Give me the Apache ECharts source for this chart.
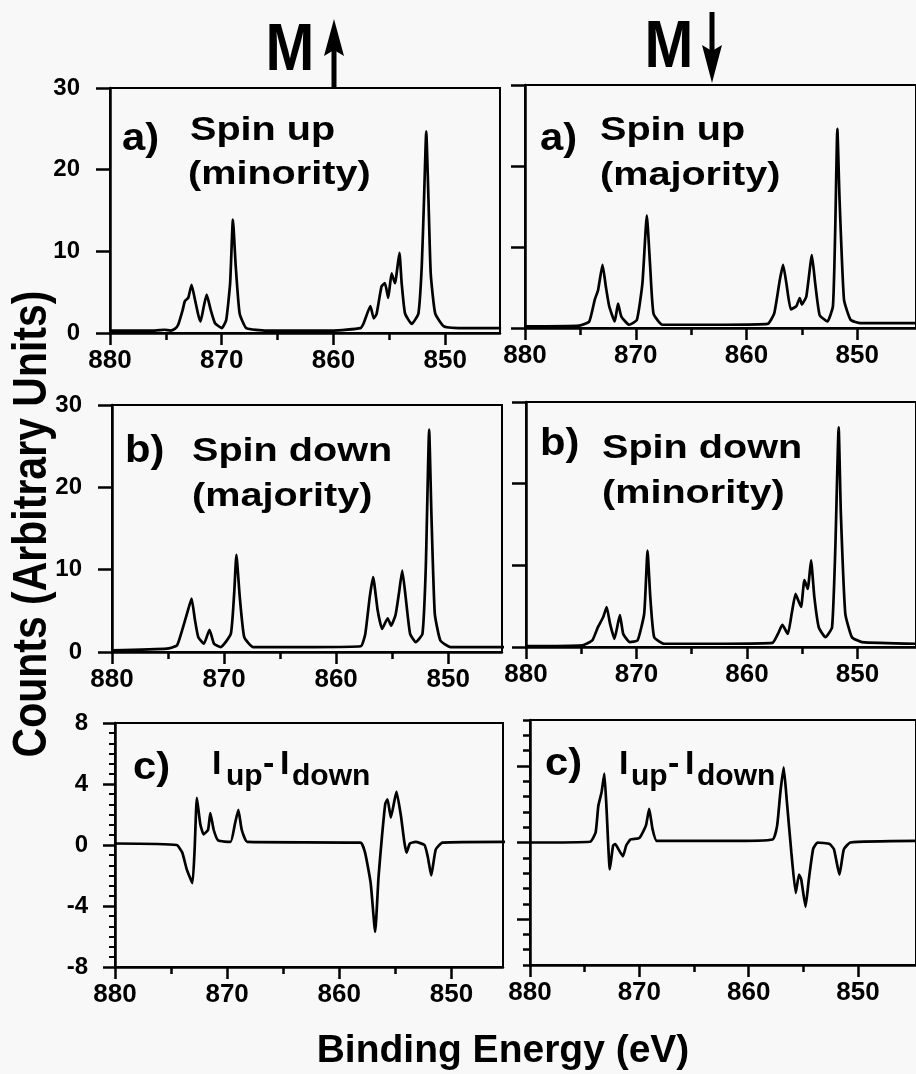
<!DOCTYPE html>
<html><head><meta charset="utf-8">
<script src="https://cdn.jsdelivr.net/npm/echarts@6/dist/echarts.min.js"></script>
<style>html,body{margin:0;padding:0;background:#f8f8f8}#c{width:916px;height:1074px}</style>
</head><body><div id="c"></div>
<script>
// ---- tick labels ----
const xTicks = [880, 870, 860, 850];
const xMinorTicks = [875, 865, 855];
const yTicksSpin = [0, 10, 20, 30];
const yTicksDiff = [-8, -4, 0, 4, 8];
const yMajorDiffRight = [-5, 0, 5];

// ---- data: [binding energy (eV), counts] ----
// M up, spin up (minority)
const mUpSpinUp = [[880,0.3],[876,0.3],[875.1,0.4],[874.6,0.3],[874.2,0.5],[873.9,1.0],[873.5,2.8],[873.3,3.9],[873.0,4.3],[872.7,5.9],[872.4,4.1],[872.1,2.2],[871.9,1.4],[871.6,3.3],[871.35,4.7],[871.0,2.9],[870.6,1.2],[870.0,0.6],[869.6,1.6],[869.25,6.1],[869.0,13.9],[868.75,8.2],[868.4,2.4],[867.8,0.6],[866,0.3],[860,0.3],[857.6,0.6],[857.3,1.2],[856.7,3.3],[856.4,1.8],[856.15,2.3],[855.7,5.7],[855.4,6.1],[855.1,4.3],[854.8,7.3],[854.5,6.1],[854.1,9.8],[853.9,6.1],[853.6,2.4],[853.0,1.1],[852.4,2.4],[852.1,8.2],[851.9,16.3],[851.7,24.7],[851.5,16.3],[851.3,7.3],[850.9,2.4],[850.1,0.8],[848,0.6],[845,0.6]];
// M down, spin up (majority)
const mDownSpinUp = [[880,0.2],[875.1,0.3],[874.2,0.8],[873.7,3.5],[873.4,4.7],[873.0,7.8],[872.7,5.1],[872.4,2.7],[871.9,0.8],[871.6,3.0],[871.3,1.4],[870.6,0.4],[869.9,1.0],[869.4,5.5],[869.0,13.9],[868.7,7.6],[868.4,1.8],[867.6,0.4],[862,0.4],[858.1,0.5],[857.5,1.8],[857.0,5.9],[856.7,7.8],[856.4,5.5],[856.0,2.3],[855.5,2.7],[855.2,3.7],[855.0,2.9],[854.6,3.9],[854.1,9.0],[853.8,5.5],[853.4,1.6],[852.7,0.8],[852.2,2.7],[852.0,11.7],[851.8,24.6],[851.6,15.8],[851.2,3.5],[850.6,1.0],[849.7,0.6],[844.7,0.6]];
// M up, spin down (majority)
const mUpSpinDown = [[880,0.2],[875.1,0.4],[874.2,0.8],[873.75,2.6],[873.3,4.7],[872.9,6.5],[872.6,3.9],[872.3,1.8],[871.8,1.0],[871.3,2.7],[870.9,1.0],[870.3,0.6],[869.4,2.2],[869.1,7.1],[868.9,11.8],[868.6,6.7],[868.2,1.8],[867.4,0.6],[862,0.6],[857.8,0.7],[857.4,2.2],[857.0,6.7],[856.7,9.1],[856.3,5.1],[855.9,2.8],[855.4,4.1],[855.1,3.2],[854.7,4.5],[854.4,7.1],[854.1,9.9],[853.8,6.7],[853.4,2.2],[852.9,1.2],[852.3,2.2],[852.0,10.3],[851.7,27.0],[851.5,16.8],[851.2,4.7],[850.7,1.4],[849.8,0.6],[845,0.6]];
// M down, spin down (minority)
const mDownSpinDown = [[880,0.1],[874.9,0.2],[874.0,0.8],[873.5,2.4],[873.0,3.7],[872.7,4.9],[872.4,2.9],[872.0,1.0],[871.5,3.9],[871.2,1.6],[870.6,0.6],[869.9,0.8],[869.3,4.1],[869.0,11.8],[868.75,6.1],[868.4,1.2],[867.5,0.4],[862,0.4],[857.7,0.5],[857.2,1.6],[856.8,2.7],[856.3,1.6],[855.95,4.1],[855.6,6.5],[855.3,5.5],[855.1,4.9],[854.8,8.2],[854.5,7.1],[854.2,10.6],[853.9,6.1],[853.5,2.4],[852.9,1.2],[852.3,2.4],[852.0,12.2],[851.7,26.9],[851.5,16.3],[851.1,4.1],[850.5,1.2],[849.6,0.6],[844.7,0.4]];
// M up, I_up - I_down
const mUpDiff = [[880,0.1],[874.5,0],[874.0,-0.5],[873.6,-1.6],[873.1,-2.5],[872.9,-0.3],[872.7,3.1],[872.4,1.4],[872.1,0.7],[871.7,1.0],[871.5,2.1],[871.2,1.0],[870.8,0.3],[869.7,0.2],[869.3,1.4],[869.0,2.3],[868.7,1.0],[868.2,0.2],[858.1,0.15],[857.7,-0.5],[857.2,-2.5],[856.8,-5.7],[856.5,-2.1],[856.2,0.5],[855.9,2.7],[855.7,3.0],[855.4,1.8],[854.9,3.5],[854.5,1.9],[854.2,0.2],[854.0,-0.5],[853.7,0.1],[853.2,0.2],[852.4,0],[852.1,-0.8],[851.8,-2.0],[851.4,-0.3],[850.8,0.15],[845,0.2]];
// M down, I_up - I_down
const mDownDiff = [[880,0],[874.5,0.05],[874.0,0.65],[873.75,2.4],[873.45,3.3],[873.2,4.5],[873.0,2.2],[872.7,-1.75],[872.4,-0.2],[872.2,-0.1],[871.9,-0.45],[871.5,-0.9],[871.2,-0.2],[870.8,0.2],[870.0,0.3],[869.4,1.1],[869.1,2.2],[868.8,0.9],[868.4,0.1],[862,0.1],[857.8,0.2],[857.4,1.1],[857.1,3.3],[856.8,4.9],[856.5,2.6],[856.1,-0.65],[855.7,-3.3],[855.4,-2.1],[855.2,-2.4],[854.8,-4.2],[854.5,-2.4],[854.1,-0.4],[853.7,0],[852.6,-0.1],[852.2,-0.45],[851.7,-2.1],[851.3,-0.45],[850.7,0],[844.7,0.1]];

const FONT = 'Liberation Sans';
const BLACK = '#000';

const panels = [
  {grid:{left:110, top:88,  width:390, height:245}, xmin:845.1, data:mUpSpinUp,    kind:'spin', labels:true},
  {grid:{left:525, top:85,  width:395, height:243}, xmin:844.7, data:mDownSpinUp,  kind:'spin', labels:false},
  {grid:{left:112, top:405, width:390, height:247}, xmin:845.2, data:mUpSpinDown,  kind:'spin', labels:true},
  {grid:{left:526, top:402, width:395, height:245}, xmin:844.7, data:mDownSpinDown,kind:'spin', labels:false},
  {grid:{left:115, top:723, width:388, height:244}, xmin:845.4, data:mUpDiff,      kind:'diffL', labels:true},
  {grid:{left:530, top:720, width:395, height:245}, xmin:844.7, data:mDownDiff,    kind:'diffR', labels:false}
];

const grid = [], xAxis = [], yAxis = [], series = [];
const axisLineStyle = {color:BLACK, width:2.5};
panels.forEach((p, i) => {
  grid.push(Object.assign({show:true, borderColor:BLACK, borderWidth:2, backgroundColor:'transparent'}, p.grid));
  xAxis[i] = {
    type:'value', gridIndex:i, min:p.xmin, max:880, inverse:true, position:'bottom',
    axisLine:{show:true, onZero:false, lineStyle:axisLineStyle},
    axisTick:{show:true, customValues:xTicks, length:12, lineStyle:{color:BLACK, width:2.5}},
    axisLabel:{show:true, customValues:xTicks, margin:15, fontSize:26, fontWeight:'bold', color:BLACK, fontFamily:FONT},
    splitLine:{show:false}
  };
  xAxis[6 + i] = {
    type:'value', gridIndex:i, min:p.xmin, max:880, inverse:true, position:'bottom', offset:0,
    axisLine:{show:false, onZero:false},
    axisTick:{show:true, customValues:xMinorTicks, length:7, lineStyle:{color:BLACK, width:2.5}},
    axisLabel:{show:false}, splitLine:{show:false}
  };
  let y;
  if (p.kind === 'spin') {
    y = {type:'value', gridIndex:i, min:0, max:30, interval:10, position:'left',
      axisLine:{show:true, lineStyle:axisLineStyle},
      axisTick:{show:true, length:14, lineStyle:{color:BLACK, width:2.5}},
      axisLabel:{show:p.labels, margin:30, fontSize:24, fontWeight:'bold', color:BLACK, fontFamily:FONT},
      splitLine:{show:false}};
  } else if (p.kind === 'diffL') {
    y = {type:'value', gridIndex:i, min:-8, max:8, interval:4, position:'left',
      axisLine:{show:true, lineStyle:axisLineStyle},
      axisTick:{show:true, length:12, lineStyle:{color:BLACK, width:2.5}},
      minorTick:{show:true, splitNumber:6, length:6, lineStyle:{color:BLACK, width:2}},
      axisLabel:{show:true, margin:27, fontSize:24, fontWeight:'bold', color:BLACK, fontFamily:FONT},
      splitLine:{show:false}};
  } else {
    y = {type:'value', gridIndex:i, min:-8, max:8, interval:1, position:'left',
      axisLine:{show:true, lineStyle:axisLineStyle},
      axisTick:{show:true, length:7, lineStyle:{color:BLACK, width:2.5}},
      axisLabel:{show:false}, splitLine:{show:false}};
  }
  yAxis[i] = y;
  series.push({type:'line', xAxisIndex:i, yAxisIndex:i, data:p.data, showSymbol:false, smooth:0.15,
    lineStyle:{color:BLACK, width:2.7}, silent:true, clip:true, animation:false});
});
yAxis[6] = {type:'value', gridIndex:5, min:-8, max:8, position:'left', offset:0,
  axisLine:{show:false},
  axisTick:{show:true, customValues:yMajorDiffRight, length:13, lineStyle:{color:BLACK, width:2.5}},
  axisLabel:{show:false}, splitLine:{show:false}};

// ---- text annotations ----
function txt(text, x, baseline, size, opts) {
  opts = opts || {};
  return Object.assign({
    type:'text', x:x, y:baseline - 0.35 * size, scaleX:opts.sx || 1, rotation:opts.rot || 0,
    style:{text:text, fontSize:size, fontWeight:'bold', fontFamily:FONT, fill:BLACK,
      align:opts.align || 'left', verticalAlign:'middle'},
    silent:true, z:100
  });
}
const SX = 1.2;
const graphic = [
  // column headers
  txt('M', 290, 75, 67, {align:'center', sx:0.875}),
  {type:'line', shape:{x1:334, y1:88, x2:334, y2:45}, style:{stroke:BLACK, lineWidth:5}, silent:true},
  {type:'polygon', shape:{points:[[334,19],[344,56],[334,50],[324,56]]}, style:{fill:BLACK}, silent:true},
  txt('M', 669, 72, 67, {align:'center', sx:0.875}),
  {type:'line', shape:{x1:712, y1:12, x2:712, y2:55}, style:{stroke:BLACK, lineWidth:5}, silent:true},
  {type:'polygon', shape:{points:[[712,83],[702,45],[712,51],[722,45]]}, style:{fill:BLACK}, silent:true},
  // panel a
  txt('a)', 122, 153, 38, {sx:1.1}),
  txt('Spin up', 190, 142, 33, {sx:SX}),
  txt('(minority)', 188, 186, 33, {sx:SX}),
  txt('a)', 540, 153, 38, {sx:1.1}),
  txt('Spin up', 600, 142, 33, {sx:SX}),
  txt('(majority)', 600, 187, 33, {sx:SX}),
  // panel b
  txt('b)', 125, 465, 38, {sx:1.1}),
  txt('Spin down', 192, 463, 33, {sx:SX}),
  txt('(majority)', 192, 508, 33, {sx:SX}),
  txt('b)', 540, 458, 38, {sx:1.1}),
  txt('Spin down', 602, 460, 33, {sx:SX}),
  txt('(minority)', 602, 505, 33, {sx:SX}),
  // panel c
  txt('c)', 133, 782, 38, {sx:1.1}),
  txt('I', 212, 777, 34),
  txt('up', 226, 787, 30),
  txt('-', 263, 777, 34),
  txt('I', 280, 777, 34),
  txt('down', 292, 787, 30),
  txt('c)', 545, 778, 38, {sx:1.1}),
  txt('I', 619, 777, 34),
  txt('up', 631, 787, 30),
  txt('-', 668, 777, 34),
  txt('I', 685, 777, 34),
  txt('down', 697, 787, 30),
  // axis titles
  {type:'text', x:33, y:524, rotation:Math.PI/2, scaleY:1.15,
    style:{text:'Counts (Arbitrary Units)', fontSize:41, fontWeight:'bold', fontFamily:FONT, fill:BLACK, align:'center', verticalAlign:'middle'}, silent:true, z:100},
  txt('Binding Energy (eV)', 503, 1065, 39, {align:'center'})
];

const chart = echarts.init(document.getElementById('c'), null, {renderer:'canvas', width:916, height:1074});
chart.setOption({
  backgroundColor:'#f8f8f8', animation:false,
  grid, xAxis, yAxis, series, graphic
});
</script></body></html>
